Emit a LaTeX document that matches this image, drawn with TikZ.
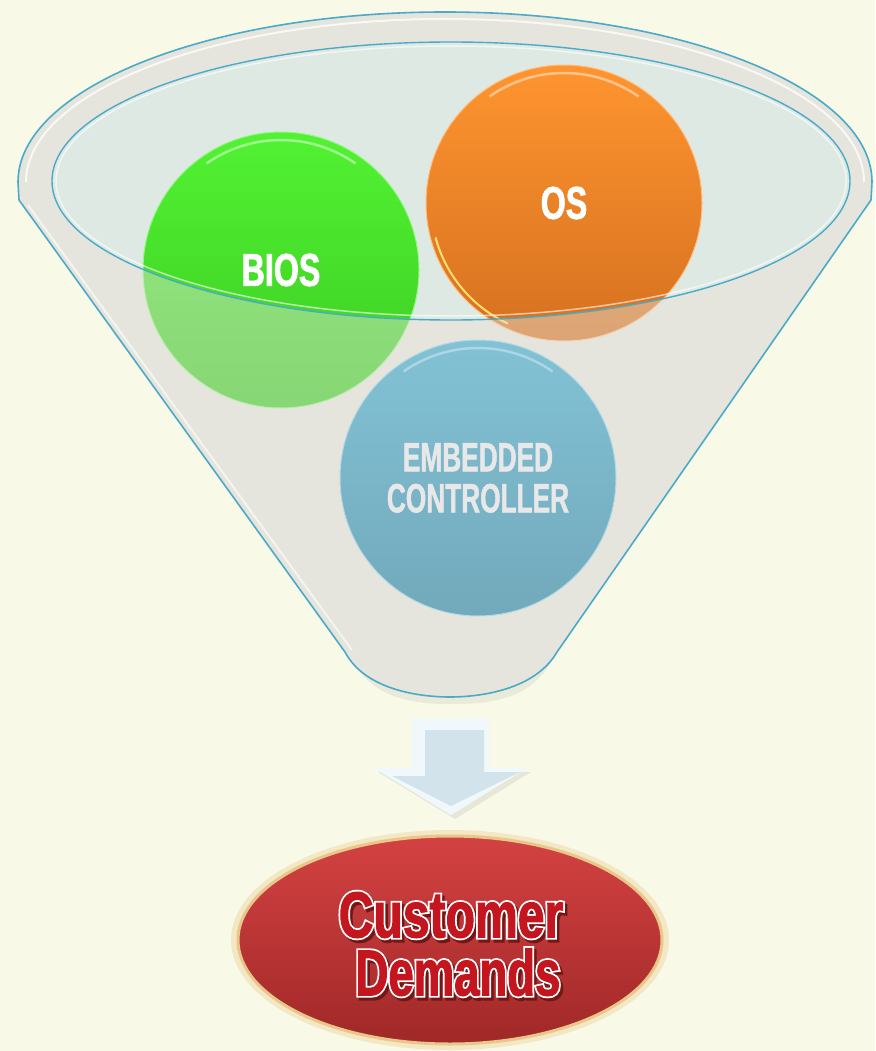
\documentclass[tikz,border=0pt]{standalone}
\usepackage{fontspec}
\usetikzlibrary{shapes.geometric}
\newfontfamily\condA[FakeStretch=0.70, BoldFeatures={FakeBold=1.5}]{Liberation Sans}
\newfontfamily\condC[FakeStretch=0.64, BoldFeatures={FakeBold=1.2}]{Liberation Sans}
\newfontfamily\cdfont[FakeStretch=0.74, BoldFeatures={FakeBold=1.5}]{Liberation Sans}
\newfontfamily\cdoutline[FakeStretch=0.74, BoldFeatures={FakeBold=7}]{Liberation Sans}
\newfontfamily\cdfontn[FakeStretch=0.70, BoldFeatures={FakeBold=1.5}]{Liberation Sans}
\newfontfamily\cdoutlinen[FakeStretch=0.70, BoldFeatures={FakeBold=7}]{Liberation Sans}
\definecolor{bgc}{HTML}{F8F9E7}
\definecolor{funnelfill}{HTML}{E5E5DD}
\definecolor{innerfill}{HTML}{DFE9E3}
\definecolor{blueline}{HTML}{4BAAC8}
\definecolor{gtop}{HTML}{52F233}
\definecolor{gbot}{HTML}{3CCB22}
\definecolor{otop}{HTML}{FF9530}
\definecolor{obot}{HTML}{D5701F}
\definecolor{etop}{HTML}{82C2D5}
\definecolor{ebot}{HTML}{72A9BB}
\definecolor{etext}{HTML}{E8E8E8}
\definecolor{cdtop}{HTML}{D44242}
\definecolor{cdbot}{HTML}{A02828}
\definecolor{cdgold}{HTML}{E9C68A}
\definecolor{cdred}{HTML}{C4161E}
\definecolor{cdshadow}{HTML}{731616}
\definecolor{arrowface}{HTML}{D2E3EB}
\definecolor{arrowlight}{HTML}{F0F8FB}
\newcommand\cdline[3]{\leavevmode\rlap{\hspace{2.5pt}\raisebox{-3pt}{#2\bfseries\color{cdshadow}#3}}\rlap{#2\bfseries\color{white}#3}{#1\bfseries\color{cdred}#3}}
\begin{document}
\begin{tikzpicture}[x=1pt,y=-1pt,
  ball/.style={circle, minimum size=276pt, inner sep=0pt, line width=1pt},
  balltext/.style={font=\condA\bfseries\fontsize{46}{46}\selectfont, text=white},
  outline/.style={draw=blueline, line width=1.6pt, line join=round}]
\useasboundingbox (0,0) rectangle (875,1051);
\fill[bgc] (0,0) rectangle (875,1051);
\def\bodypath{(18,182) arc[start angle=180,end angle=360,x radius=427,y radius=170] -- (871,200) -- (557,652) .. controls (535,690) and (480,697) .. (450,697) .. controls (420,697) and (365,690) .. (345,652) -- (19,200) -- cycle}
% soft shadow under the funnel
\fill[black, opacity=0.06] (352,660) .. controls (375,702) and (420,704) .. (452,704) .. controls (484,704) and (530,702) .. (552,660) -- cycle;
% funnel body and inner opening
\fill[funnelfill] \bodypath;
\fill[innerfill] (451,181) ellipse[x radius=399, y radius=139];
% balls in the opening
\node[ball, top color=gtop, bottom color=gbot, draw=gtop!60!white, balltext] (bios) at (281,270) {BIOS};
\node[ball, top color=otop, bottom color=obot, draw=otop!60!white, balltext] (os) at (564,203) {OS};
\draw[white, opacity=0.45, line width=2.5pt] ([shift={(125:130pt)}]bios.center) arc[start angle=125, end angle=55, radius=130pt];
\draw[white, opacity=0.45, line width=2.5pt] ([shift={(125:130pt)}]os.center) arc[start angle=125, end angle=55, radius=130pt];
\draw[yellow!50!white, opacity=0.8, line width=2pt] ([shift={(195:133pt)}]os.center) arc[start angle=195, end angle=245, radius=133pt];
% front of funnel over the balls
\fill[funnelfill, fill opacity=0.45, even odd rule] \bodypath (451,181) ellipse[x radius=399, y radius=139];
% embedded controller
\node[ball, top color=etop, bottom color=ebot, draw=etop!60!white, font=\condC\bfseries\fontsize{41}{41}\selectfont, text=etext, align=center] (ec) at (478,478) {EMBEDDED\\CONTROLLER};
\draw[white, opacity=0.35, line width=2.5pt] ([shift={(125:130pt)}]ec.center) arc[start angle=125, end angle=55, radius=130pt];
% outlines
\draw[white, opacity=0.75, line width=2pt] (26,182) arc[start angle=180,end angle=360,x radius=419,y radius=163];
\draw[white, opacity=0.6, line width=2pt] (28,205) -- (352,650);
\draw[outline] \bodypath;
\draw[white, opacity=0.6, line width=1.5pt] (451,181) ellipse[x radius=395, y radius=135];
\draw[outline, line width=1.4pt] (451,181) ellipse[x radius=399, y radius=139];
% arrow
\fill[black, opacity=0.07] (378,772) -- (455,819) -- (531,772) -- cycle;
\fill[arrowlight] (412,718) -- (489,718) -- (489,768) -- (527,768) -- (451,815) -- (374,768) -- (412,768) -- cycle;
\fill[arrowface] (425,730) -- (484,730) -- (484,772) -- (520,772) -- (451,806) -- (392,776) -- (425,776) -- cycle;
% customer demands
\fill[cdgold!35!bgc] (450,940) ellipse[x radius=219, y radius=110];
\node[ellipse, minimum width=424pt, minimum height=208pt, inner sep=0pt, top color=cdtop, bottom color=cdbot, draw=cdgold, line width=3pt] (cdbox) at (450,940) {};
\node[font=\fontsize{65}{58}\selectfont, align=center, inner sep=0pt] (cd) at (451,945.5) {\cdline{\cdfont}{\cdoutline}{Customer}\\\hspace*{14pt}\cdline{\cdfontn}{\cdoutlinen}{Demands}};
\end{tikzpicture}
\end{document}
